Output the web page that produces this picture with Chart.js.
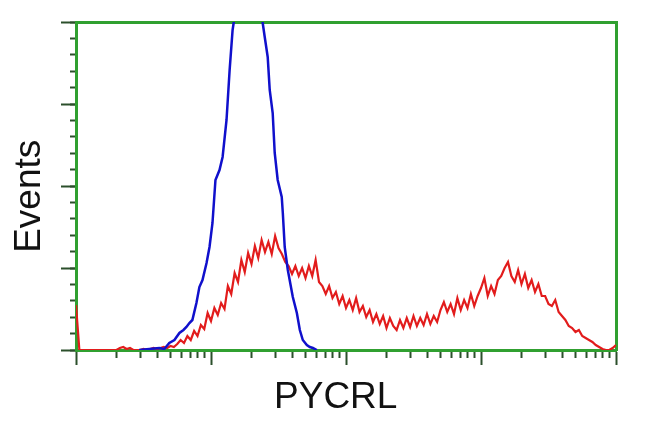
<!DOCTYPE html>
<html>
<head>
<meta charset="utf-8">
<script src="https://cdn.jsdelivr.net/npm/chart.js@4.4.1/dist/chart.umd.min.js"></script>
<style>
    html, body { margin: 0; padding: 0; background: #fff; }
</style>
</head>
<body>
<canvas id="histogram" width="650" height="432"></canvas>
<script>
// x is in decades of fluorescence (0 = 10^0 ... 4 = 10^4), y is events per channel
let redStep = 0.025;
let redCounts = [
    45, 0, 0, 0, 0, 0, 0, 0, 0, 0, 0, 0, 0,
    2, 3, 1, 2, 0, 0, 0, 1, 0, 1, 2, 1, 2, 3, 2, 4, 3,
    6, 10, 7, 14, 10, 19, 14, 25, 21, 37, 29, 42, 35, 47, 41, 64, 56, 77, 68, 90, 78, 97, 86, 104, 92, 110, 98, 108, 96, 114, 102,
    96, 88, 84, 76, 84, 74, 82, 72, 84, 74, 90, 68, 64, 56, 64, 52, 58, 46, 54, 42, 50, 40, 52, 38, 44, 33, 40, 28, 36, 26,
    34, 22, 32, 24, 20, 30, 22, 32, 23, 34, 24, 32, 25, 36, 26, 34, 28, 40, 48, 38, 46, 36, 52, 40, 50, 42, 56, 44, 54, 62,
    72, 54, 64, 56, 70, 74, 82, 88, 74, 68, 80, 66, 76, 62, 70, 58, 66, 54, 54, 46, 44, 50, 38, 34, 30, 24, 22, 18, 20, 14,
    12, 10, 8, 5, 3, 1, 0, 0, 2, 5
];

let blueChannels = [
    0.468, 0.543, 0.617, 0.654, 0.691, 0.729, 0.766, 0.796, 0.818, 0.840,
    0.862, 0.892, 0.914, 0.937, 0.967, 0.989, 1.011, 1.033, 1.063, 1.086,
    1.115, 1.138, 1.160, 1.182, 1.212, 1.271, 1.323, 1.361, 1.383, 1.398,
    1.420, 1.435, 1.457, 1.472, 1.494, 1.524, 1.532, 1.546, 1.569, 1.606,
    1.636, 1.658, 1.680, 1.710, 1.732, 1.755, 1.784
];
let blueCounts = [
    0, 1, 2, 1, 7, 10, 17, 20, 23, 27,
    30, 47, 63, 70, 87, 103, 127, 170, 180, 193,
    230, 280, 320, 340, 370, 400, 390, 350, 327, 313,
    293, 260, 237, 197, 170, 153, 137, 103, 80, 53,
    37, 20, 10, 5, 3, 2, 0
];

let majorDecades = [0, 1, 2, 3, 4];
let minorMultipliers = [2, 3, 4, 5, 6, 7, 8, 9];
let eventMajorTicks = [0, 82, 164, 246, 328];
let eventMinorTicks = [0, 16.4, 32.8, 49.2, 65.6, 82, 98.4, 114.8, 131.2, 147.6, 164,
    180.4, 196.8, 213.2, 229.6, 246, 262.4, 278.8, 295.2, 311.6, 328];

let frameColor = '#30a030';
let tickColor = '#2b4f2b';

function toPoints(xs, ys) {
    return ys.map(function (y, i) {
        return {x: xs[i], y: y};
    });
}

function minorDecadeTicks() {
    let ticks = [];
    for (let d = 0; d < 4; d++) {
        minorMultipliers.forEach(function (m) {
            ticks.push({value: d + Math.log10(m)});
        });
    }
    return ticks;
}

let redChannels = redCounts.map(function (c, i) {
    return i * redStep;
});

let axisFont = {family: "'Liberation Sans', Arial, sans-serif", size: 37, lineHeight: 1.2};

let histogramCanvas = document.getElementById('histogram');
let histogramChart = new Chart(histogramCanvas, {
    type: 'line',
    data: {
        datasets: [{
            label: 'PYCRL',
            data: toPoints(blueChannels, blueCounts),
            borderColor: '#1010cc',
            borderWidth: 2.5,
            pointRadius: 0,
            tension: 0,
            fill: false
        }, {
            label: 'control',
            data: toPoints(redChannels, redCounts),
            borderColor: '#e21c1c',
            borderWidth: 2.2,
            pointRadius: 0,
            tension: 0,
            fill: false
        }]
    },
    options: {
        responsive: false,
        animation: false,
        layout: {padding: {top: 22, right: 34, bottom: 0, left: 0}},
        plugins: {
            legend: {display: false},
            tooltip: {enabled: false}
        },
        scales: {
            x: {
                type: 'linear',
                position: 'bottom',
                weight: 1,
                z: 1,
                min: 0,
                max: 4,
                afterBuildTicks: function (scale) {
                    scale.ticks = majorDecades.map(function (v) { return {value: v}; });
                },
                afterFit: function (scale) { scale.height = 82; },
                ticks: {display: false},
                grid: {drawOnChartArea: false, color: tickColor, tickLength: 15, tickWidth: 2},
                border: {display: true, color: frameColor, width: 3},
                title: {
                    display: true,
                    text: 'PYCRL\u00a0\u00a0',
                    color: '#111',
                    font: axisFont,
                    padding: {top: 0, bottom: 12}
                }
            },
            xMinor: {
                type: 'linear',
                position: 'bottom',
                weight: 0,
                z: 1,
                min: 0,
                max: 4,
                afterBuildTicks: function (scale) { scale.ticks = minorDecadeTicks(); },
                afterFit: function (scale) { scale.height = 0; },
                ticks: {display: false},
                grid: {drawOnChartArea: false, color: tickColor, tickLength: 8, tickWidth: 2},
                border: {display: false}
            },
            xTop: {
                type: 'linear',
                position: 'top',
                min: 0,
                max: 4,
                afterFit: function (scale) { scale.height = 0; },
                ticks: {display: false},
                grid: {display: false},
                border: {display: true, color: frameColor, width: 3}
            },
            y: {
                type: 'linear',
                position: 'left',
                weight: 1,
                min: 0,
                max: 328,
                afterBuildTicks: function (scale) {
                    scale.ticks = eventMajorTicks.map(function (v) { return {value: v}; });
                },
                afterFit: function (scale) { scale.width = 76; },
                ticks: {display: false},
                grid: {drawOnChartArea: false, color: tickColor, tickLength: 15, tickWidth: 2},
                border: {display: true, color: frameColor, width: 3},
                title: {
                    display: true,
                    text: 'Events\u00a0\u00a0',
                    color: '#111',
                    font: axisFont,
                    padding: {top: 8, bottom: 0}
                }
            },
            yMinor: {
                type: 'linear',
                position: 'left',
                weight: 0,
                min: 0,
                max: 328,
                afterBuildTicks: function (scale) {
                    scale.ticks = eventMinorTicks.map(function (v) { return {value: v}; });
                },
                afterFit: function (scale) { scale.width = 0; },
                ticks: {display: false},
                grid: {drawOnChartArea: false, color: tickColor, tickLength: 6, tickWidth: 2},
                border: {display: false}
            },
            yRight: {
                type: 'linear',
                position: 'right',
                min: 0,
                max: 328,
                afterFit: function (scale) { scale.width = 0; },
                ticks: {display: false},
                grid: {display: false},
                border: {display: true, color: frameColor, width: 3}
            }
        }
    }
});
</script>
</body>
</html>
